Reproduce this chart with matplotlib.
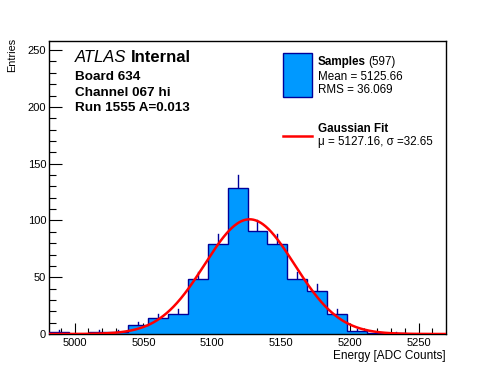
import numpy as np
import matplotlib
matplotlib.use("Agg")
import matplotlib.pyplot as plt
from matplotlib.patches import Rectangle
from matplotlib.lines import Line2D
from matplotlib.ticker import MultipleLocator

# ---- data ----
x_lo, x_hi = 4981.38, 5269.94
n_bins = 20
counts = [2, 0, 2, 2, 8, 14, 18, 48, 79, 129, 91, 79, 48, 38, 18, 3, 1, 1, 0, 0]
fit_mu = 5127.16
fit_sigma = 32.65
fit_amp = 101.0
y_max = 258

title_lines = ["Board 634", "Channel 067 hi", "Run 1555 A=0.013"]
legend_samples = ("Samples", "(597)", "Mean = 5125.66", "RMS = 36.069")
legend_fit = ("Gaussian Fit", "\u03bc = 5127.16, \u03c3 =32.65")

FILL = "#0099ff"
EDGE = "#000099"
FONT = "Liberation Sans"
plt.rcParams['font.family'] = [FONT, 'DejaVu Sans']

W, H = 496, 372
fig = plt.figure(figsize=(W / 100, H / 100), dpi=100)
L, R, T, B = 49, 446, 41, 334
ax = fig.add_axes([L / W, 1 - B / H, (R - L) / W, (B - T) / H])

def fx(px):
    return px / W

def fy(py):
    return 1 - py / H

edges = np.linspace(x_lo, x_hi, n_bins + 1)
vals = np.array(counts, dtype=float)
centers = 0.5 * (edges[:-1] + edges[1:])

# error bars (below the fill, only the upper part shows)
for c, v in zip(centers, vals):
    if v > 0:
        e = np.sqrt(v)
        ax.plot([c, c], [v - e, v + e], color=EDGE, lw=1.0, zorder=1)

ax.stairs(vals, edges, fill=True, facecolor=FILL, edgecolor="none", zorder=2)
ax.stairs(vals, edges, fill=False, edgecolor=EDGE, lw=1.0, zorder=3)

xs = np.linspace(x_lo, x_hi, 600)
ax.plot(xs, fit_amp * np.exp(-0.5 * ((xs - fit_mu) / fit_sigma) ** 2),
        color="#ff0000", lw=1.8, zorder=4)

ax.set_xlim(x_lo, x_hi)
ax.set_ylim(0, y_max)
ax.xaxis.set_major_locator(MultipleLocator(50))
ax.xaxis.set_minor_locator(MultipleLocator(10))
ax.yaxis.set_major_locator(MultipleLocator(50))
ax.yaxis.set_minor_locator(MultipleLocator(10))
ax.tick_params(which="both", direction="in", top=False, right=False,
               labelsize=8, width=0.8, colors="black")
ax.tick_params(axis="x", which="major", length=8, pad=3)
ax.tick_params(axis="x", which="minor", length=4)
ax.tick_params(axis="y", which="major", length=9, pad=2)
ax.tick_params(axis="y", which="minor", length=5)
for s in ax.spines.values():
    s.set_linewidth(1.0)

fig.text(fx(12.5), fy(38), "Entries", rotation=90, ha="center", va="top",
         fontsize=7.8)
fig.text(fx(446), fy(356), "Energy [ADC Counts]", ha="right", va="center",
         fontsize=8.5)

# ATLAS label
t1 = fig.text(fx(75), fy(58), "ATLAS", fontstyle="italic", fontsize=12,
              ha="left", va="center")
fig.canvas.draw()
bb = t1.get_window_extent()
fig.text(bb.x1 / W + 4 / W, fy(58), "Internal", fontweight="bold",
         fontsize=12, ha="left", va="center")
for i, s in enumerate(title_lines):
    fig.text(fx(75), fy(77 + 15.5 * i), s, fontweight="bold", fontsize=9.7,
             ha="left", va="center")

# legend
fig.add_artist(Rectangle((fx(283.3), fy(96.7)), (311.7 - 283.3) / W,
                         (96.7 - 53.3) / H, facecolor=FILL, edgecolor=EDGE,
                         lw=1.0, transform=fig.transFigure))
ts = fig.text(fx(317.5), fy(62), legend_samples[0], fontweight="bold",
              fontsize=8.4, ha="left", va="center")
fig.canvas.draw()
bb = ts.get_window_extent()
fig.text(bb.x1 / W + 2.5 / W, fy(62), legend_samples[1], fontsize=8.4,
         ha="left", va="center")
fig.text(fx(317.5), fy(76.7), legend_samples[2], fontsize=8.4, ha="left",
         va="center")
fig.text(fx(317.5), fy(90), legend_samples[3], fontsize=8.4, ha="left",
         va="center")

fig.add_artist(Line2D([fx(283.3), fx(311.7)], [fy(135.7), fy(135.7)],
                      color="#ff0000", lw=1.8, transform=fig.transFigure))
fig.text(fx(317.5), fy(129.3), legend_fit[0], fontweight="bold", fontsize=8.4,
         ha="left", va="center")
fig.text(fx(317.5), fy(141.5), legend_fit[1], fontsize=8.4, ha="left",
         va="center")

fig.savefig("out.png", dpi=100)
